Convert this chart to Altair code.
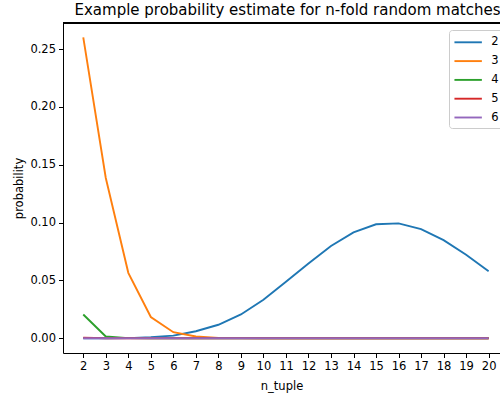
import altair as alt
import pandas as pd

n_tuple = list(range(2, 21))
series_names = ["2", "3", "4", "5", "6"]
p2 = [0.0, 0.0, 0.0001, 0.0009, 0.0022, 0.0060, 0.0116, 0.0205, 0.0332, 0.0488,
      0.0645, 0.0797, 0.0915, 0.0985, 0.0993, 0.0943, 0.0848, 0.0721, 0.0578]
p3 = [0.2600, 0.1385, 0.0565, 0.0183, 0.0052, 0.0015, 0.0003, 0.0001, 0.0, 0.0,
      0.0, 0.0, 0.0, 0.0, 0.0, 0.0, 0.0, 0.0, 0.0]
p4 = [0.0205, 0.0015, 0.0001, 0.0, 0.0, 0.0, 0.0, 0.0, 0.0, 0.0,
      0.0, 0.0, 0.0, 0.0, 0.0, 0.0, 0.0, 0.0, 0.0]
p5 = [0.0005, 0.0, 0.0, 0.0, 0.0, 0.0, 0.0, 0.0, 0.0, 0.0,
      0.0, 0.0, 0.0, 0.0, 0.0, 0.0, 0.0, 0.0, 0.0]
p6 = [0.0] * 19
colors = ["#1f77b4", "#ff7f0e", "#2ca02c", "#d62728", "#9467bd"]
y_ticks = [0.0, 0.05, 0.10, 0.15, 0.20, 0.25]

rows = []
for name, vals in zip(series_names, [p2, p3, p4, p5, p6]):
    for n, v in zip(n_tuple, vals):
        rows.append({"n_tuple": n, "probability": v, "series": name})
df = pd.DataFrame(rows)

FONT = "DejaVu Sans"
W, H = 437, 330

lines = alt.Chart(df).mark_line(strokeWidth=1.9, clip=True).encode(
    x=alt.X("n_tuple:Q",
            scale=alt.Scale(domain=[1.1, 20.505], nice=False, zero=False),
            axis=alt.Axis(values=n_tuple, format="d", title="n_tuple",
                          tickSize=4.5, labelPadding=3, titlePadding=8.5,
                          grid=False, labelFlush=False)),
    y=alt.Y("probability:Q",
            scale=alt.Scale(domain=[-0.0128, 0.2725], nice=False, zero=False),
            axis=alt.Axis(values=y_ticks, format=".2f", title="probability",
                          tickSize=4.5, labelPadding=3, titlePadding=5,
                          grid=False)),
    color=alt.Color("series:N",
                    scale=alt.Scale(domain=series_names, range=colors),
                    legend=alt.Legend(title=None, orient="none",
                                      legendX=386, legendY=7,
                                      symbolType="M-1,0H3",
                                      symbolSize=188, symbolStrokeWidth=1.9,
                                      labelOffset=22, rowPadding=4.8,
                                      padding=4.3, cornerRadius=3,
                                      strokeColor="#cccccc", fillColor="white",
                                      labelFontSize=11.5, labelFont=FONT,
                                      labelColor="black")),
)

top_border = alt.Chart(df).mark_rule(color="black", strokeWidth=1).encode(
    x=alt.value(0), x2=alt.value(W), y=alt.value(0)
)

chart = alt.layer(lines, top_border).properties(
    width=W, height=H,
    background="white",
    title=alt.TitleParams("Example probability estimate for n-fold random matches",
                          font=FONT, fontSize=15, fontWeight="normal",
                          color="black", anchor="middle", offset=6.5,
                          baseline="alphabetic", frame="group", dx=6, dy=14),
    autosize=alt.AutoSizeParams(type="none"),
    padding={"left": 63, "top": 23, "right": 0, "bottom": 43},
).configure_view(stroke=None).configure_axis(
    labelFont=FONT, titleFont=FONT, labelFontSize=11.5, titleFontSize=11.5,
    titleFontWeight="normal", labelColor="black", titleColor="black",
    domainColor="black", tickColor="black", domainWidth=1, tickWidth=1,
)

chart.save("out.html", embed_options={"renderer": "svg", "actions": False})
